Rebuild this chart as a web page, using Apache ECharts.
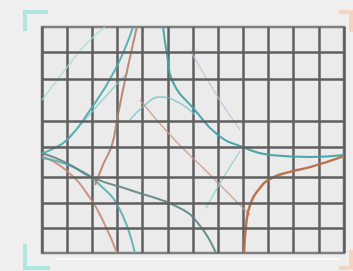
<!DOCTYPE html>
<html>
<head>
<meta charset="utf-8">
<script src="https://cdn.jsdelivr.net/npm/echarts@6/dist/echarts.min.js"></script>
<style>
  html, body { margin: 0; padding: 0; background: #efefef; }
  #chart { width: 353px; height: 271px; }
</style>
</head>
<body>
<div id="chart"></div>
<script>
// grid rows (y values of the horizontal lines, in cell units)
const hLines = [1, 2, 3, 4.22, 5.26, 6.93, 8];

// curves, [x, y] in cell units
const tealUpper = [[4.81, 9], [4.97, 7.89], [5.2, 6.81], [6.08, 5.69], [6.99, 4.7], [7.98, 4.22], [9.06, 3.9], [10.65, 3.82], [12, 3.9]];
const brownLower = [[8.03, 0], [8.11, 1.12], [8.27, 1.91], [8.66, 2.59], [9.14, 2.99], [9.85, 3.23], [10.65, 3.42], [12, 3.86]];
const darkLeft = [[0, 3.98], [0.99, 3.58], [2.03, 2.99], [3.62, 2.47], [5.48, 1.79], [6.28, 1.08], [6.91, 0]];
const pinkLeft = [[0, 3.86], [0.99, 3.27], [1.91, 2.19], [2.5, 1.12], [2.98, 0]];
const tealLeft = [[0, 3.78], [1.31, 3.39], [2.3, 2.71], [3.1, 1.71], [3.69, 0]];
const tealTop = [[3.62, 9], [2.9, 7.29], [1.91, 5.69], [0.99, 4.5], [0.32, 4.1], [0, 3.98]];
const brownTop = [[3.77, 9], [3.3, 6.89], [2.98, 5.3], [2.78, 4.3], [2.42, 3.5], [2.11, 2.71]];
const cyanFaint = [[0, 6.09], [0.91, 7.29], [1.79, 8.36], [2.5, 9]];
const cyanRise = [[1.03, 4.5], [2.22, 5.89], [3.42, 7.21]];
const cyanArc = [[3.5, 5.3], [4.09, 5.89], [4.69, 6.21], [5.4, 6.01], [6.08, 5.5]];
const pinkDiag = [[3.89, 6.09], [5.2, 4.58], [6.48, 3.31], [7.71, 2.07], [8.26, 1.51]];
const lavender = [[5.88, 8.08], [6.99, 6.21], [7.87, 4.9]];
const tealLight = [[7.87, 4.06], [7.15, 2.91], [6.52, 1.79]];

const chart = echarts.init(document.getElementById('chart'));

function curve(data, color, width, opacity) {
  return {
    type: 'line',
    data: data,
    smooth: true,
    symbol: 'none',
    silent: true,
    lineStyle: { color: color, width: width, opacity: opacity }
  };
}

// horizontal grid lines
const gridLines = {
  type: 'line',
  data: [],
  silent: true,
  markLine: {
    silent: true,
    symbol: 'none',
    label: { show: false },
    lineStyle: { color: '#5f5f5f', width: 2.5, type: 'solid' },
    data: hLines.map(v => ({ yAxis: v }))
  }
};

chart.setOption({
  backgroundColor: '#efefef',
  animation: false,
  grid: {
    left: 42, right: 9, top: 27, bottom: 18,
    show: true,
    backgroundColor: '#ebebeb',
    borderColor: '#808080',
    borderWidth: 2.5
  },
  xAxis: {
    type: 'value', min: 0, max: 12, interval: 1,
    axisLine: { show: false }, axisTick: { show: false }, axisLabel: { show: false },
    splitLine: { lineStyle: { color: '#5f5f5f', width: 2.5 } }
  },
  yAxis: {
    type: 'value', min: 0, max: 9, interval: 9,
    axisLine: { show: false }, axisTick: { show: false }, axisLabel: { show: false },
    splitLine: { show: false }
  },
  graphic: [
    { type: 'polyline', shape: { points: [[25, 31], [25, 12], [48, 12]] }, style: { stroke: '#9fe3dc', lineWidth: 4, fill: null, opacity: 0.8 } },
    { type: 'polyline', shape: { points: [[339, 12], [351, 12], [351, 32]] }, style: { stroke: '#f5cdb2', lineWidth: 4, fill: null, opacity: 0.8 } },
    { type: 'polyline', shape: { points: [[25, 244], [25, 268], [50, 268]] }, style: { stroke: '#9fe3dc', lineWidth: 4, fill: null, opacity: 0.8 } },
    { type: 'polyline', shape: { points: [[339, 268], [351, 268], [351, 250]] }, style: { stroke: '#f5cdb2', lineWidth: 4, fill: null, opacity: 0.8 } },
    { type: 'line', shape: { x1: 55, y1: 259, x2: 340, y2: 259 }, style: { stroke: '#fafafa', lineWidth: 2 } }
  ],
  series: [
    gridLines,
    curve(cyanFaint, '#a6dcd6', 1.5, 0.8),
    curve(lavender, '#c9c2da', 1.5, 0.8),
    curve(cyanRise, '#7fd0cc', 1.5, 0.8),
    curve(cyanArc, '#6cc4c4', 1.5, 0.8),
    curve(tealLight, '#8ad4cf', 1.5, 0.8),
    curve(pinkDiag, '#c99a8c', 1.5, 0.8),
    curve(pinkLeft, '#c58d7a', 2, 0.9),
    curve(tealLeft, '#5aaeb0', 2, 0.9),
    curve(darkLeft, '#5e8585', 2, 0.9),
    curve(brownTop, '#b47f68', 2, 0.9),
    curve(tealTop, '#4fa8ac', 2, 0.9),
    curve(tealUpper, '#3ea2a6', 2, 0.95),
    curve(brownLower, '#b86f48', 2.5, 0.95)
  ]
});
</script>
</body>
</html>
